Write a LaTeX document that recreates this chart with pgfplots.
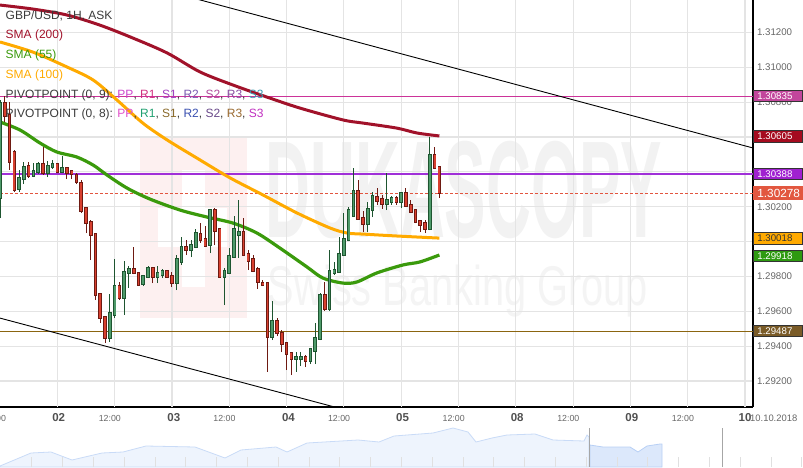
\documentclass[border=0pt]{standalone}
\usepackage{pgfplots}
\pgfplotsset{compat=1.18}
\usepackage{pgfplotstable}
\usepackage{fontspec}
\usepackage{graphicx}
\setmainfont{Liberation Sans}

\definecolor{rfill}{HTML}{D8402F}
\definecolor{rdark}{HTML}{6E1A12}
\definecolor{gfill}{HTML}{4E9A6A}
\definecolor{gdark}{HTML}{1E5530}
\definecolor{sma200}{HTML}{A1122A}
\definecolor{sma100}{HTML}{FFAA00}
\definecolor{sma55}{HTML}{3A9A0C}
\definecolor{hlmag}{HTML}{CC3399}
\definecolor{hlpur}{HTML}{A030D8}
\definecolor{hlbrn}{HTML}{8B6510}
\definecolor{curred}{HTML}{E2553F}
\definecolor{gridc}{HTML}{E4E4E4}
\definecolor{lblgray}{HTML}{666666}
\definecolor{daygray}{HTML}{505050}
\definecolor{txt}{HTML}{3A3A3A}
\definecolor{bx1}{HTML}{C2469C}
\definecolor{bx2}{HTML}{A50B1F}
\definecolor{bx3}{HTML}{A020D0}
\definecolor{bx4}{HTML}{E2573F}
\definecolor{bx5}{HTML}{FFAA00}
\definecolor{bx6}{HTML}{2E9A10}
\definecolor{bx7}{HTML}{7A5B27}
\definecolor{wmpink}{HTML}{FDF0F0}
\definecolor{wmgray}{HTML}{F2F2F2}
\definecolor{wmgray2}{HTML}{F4F4F4}
\definecolor{navfill}{HTML}{EEF4FD}
\definecolor{navline}{HTML}{C9DBF7}
\definecolor{navsel}{HTML}{DCE8FB}
\definecolor{navsel2}{HTML}{B8D0F5}
% pivot legend colours
\definecolor{pa}{HTML}{CC44CC}
\definecolor{pb}{HTML}{D03080}
\definecolor{pc}{HTML}{A040C0}
\definecolor{pd}{HTML}{7A5AB0}
\definecolor{pe}{HTML}{B04A9A}
\definecolor{pf}{HTML}{8A4AA0}
\definecolor{pg}{HTML}{3A9AB0}
\definecolor{qa}{HTML}{E050C8}
\definecolor{qb}{HTML}{20A070}
\definecolor{qc}{HTML}{8A6A2A}
\definecolor{qd}{HTML}{3A50B0}
\definecolor{qe}{HTML}{6A4A8A}
\definecolor{qf}{HTML}{9A6A30}
\definecolor{qg}{HTML}{C030C0}

\newcommand{\dl}[1]{{\fontsize{11.5}{12}\selectfont\bfseries\color{daygray}#1}}
\newcommand{\hlab}{{\fontsize{8.8}{10}\selectfont\color{lblgray}12:00}}

\pgfplotstableread{
i o h l c
1 1.30795 1.30835 1.30686 1.30720
2 1.30726 1.30801 1.30411 1.30456
3 1.30514 1.30525 1.30284 1.30296
6 1.30433 1.30456 1.30365 1.30376
9 1.30445 1.30542 1.30382 1.30393
12 1.30445 1.30451 1.30393 1.30399
14 1.30422 1.30428 1.30359 1.30393
15 1.30405 1.30411 1.30359 1.30388
16 1.30382 1.30393 1.30330 1.30342
17 1.30336 1.30353 1.30164 1.30175
18 1.30192 1.30198 1.30049 1.30106
19 1.30112 1.30124 1.29894 1.30038
20 1.30043 1.30049 1.29665 1.29693
21 1.29699 1.29705 1.29533 1.29561
22 1.29567 1.29573 1.29418 1.29447
25 1.29745 1.29768 1.29665 1.29676
28 1.29843 1.29969 1.29814 1.29820
29 1.29820 1.29825 1.29745 1.29751
32 1.29848 1.29854 1.29762 1.29797
35 1.29831 1.29837 1.29791 1.29797
36 1.29802 1.29825 1.29739 1.29762
39 1.29969 1.30009 1.29923 1.29952
42 1.30043 1.30106 1.29992 1.30009
43 1.30015 1.30089 1.29969 1.29975
45 1.30181 1.30192 1.29980 1.30061
46 1.30072 1.30078 1.29791 1.29797
51 1.30055 1.30135 1.29917 1.29923
52 1.29929 1.29952 1.29837 1.29888
53 1.29900 1.29923 1.29825 1.29831
54 1.29843 1.29854 1.29728 1.29768
55 1.29762 1.29779 1.29745 1.29751
56 1.29762 1.29762 1.29252 1.29452
58 1.29544 1.29561 1.29458 1.29475
59 1.29475 1.29493 1.29366 1.29412
60 1.29418 1.29418 1.29263 1.29355
61 1.29361 1.29366 1.29234 1.29326
64 1.29338 1.29349 1.29280 1.29315
68 1.29693 1.29768 1.29602 1.29613
75 1.30290 1.30353 1.30124 1.30129
76 1.30135 1.30175 1.30055 1.30101
79 1.30256 1.30307 1.30210 1.30233
80 1.30244 1.30267 1.30187 1.30216
83 1.30250 1.30261 1.30210 1.30227
85 1.30279 1.30307 1.30198 1.30204
86 1.30210 1.30238 1.30164 1.30170
87 1.30181 1.30181 1.30106 1.30112
88 1.30118 1.30124 1.30055 1.30095
89 1.30106 1.30124 1.30049 1.30072
91 1.30497 1.30542 1.30416 1.30422
92 1.30428 1.30428 1.30250 1.30279
}\redc

\pgfplotstableread{
i o h l c
0 1.30250 1.30812 1.30135 1.30795
4 1.30302 1.30411 1.30284 1.30365
5 1.30359 1.30456 1.30330 1.30428
7 1.30376 1.30451 1.30370 1.30405
8 1.30399 1.30456 1.30388 1.30445
10 1.30393 1.30462 1.30370 1.30433
11 1.30428 1.30468 1.30416 1.30445
13 1.30399 1.30491 1.30393 1.30422
23 1.29447 1.29699 1.29424 1.29590
24 1.29579 1.29900 1.29561 1.29745
26 1.29676 1.29888 1.29579 1.29825
27 1.29820 1.29860 1.29734 1.29843
30 1.29756 1.29808 1.29745 1.29802
31 1.29797 1.29860 1.29791 1.29848
33 1.29797 1.29860 1.29762 1.29820
34 1.29808 1.29843 1.29791 1.29831
37 1.29762 1.29923 1.29722 1.29900
38 1.29883 1.30026 1.29866 1.29969
40 1.29952 1.30009 1.29911 1.29980
41 1.29969 1.30072 1.29963 1.30049
44 1.29980 1.30181 1.29934 1.30181
47 1.29797 1.29848 1.29636 1.29831
48 1.29820 1.29963 1.29814 1.29917
49 1.29911 1.30147 1.29906 1.30072
50 1.30038 1.30238 1.29906 1.30055
57 1.29452 1.29659 1.29435 1.29544
62 1.29326 1.29366 1.29252 1.29338
63 1.29326 1.29366 1.29286 1.29338
65 1.29315 1.29389 1.29297 1.29384
66 1.29372 1.29533 1.29297 1.29447
67 1.29441 1.29705 1.29435 1.29693
69 1.29613 1.29952 1.29602 1.29831
70 1.29820 1.29883 1.29808 1.29837
71 1.29825 1.30026 1.29820 1.29929
72 1.29923 1.30164 1.29917 1.30015
73 1.30009 1.30198 1.30003 1.30181
74 1.30147 1.30422 1.30141 1.30290
77 1.30101 1.30227 1.30055 1.30187
78 1.30181 1.30284 1.30141 1.30261
81 1.30216 1.30393 1.30181 1.30238
82 1.30227 1.30261 1.30210 1.30250
84 1.30227 1.30279 1.30192 1.30279
90 1.30072 1.30600 1.30066 1.30497
}\greenc

\tikzset{
  pbox/.style={anchor=west, inner xsep=4pt, inner ysep=0pt, minimum height=11.5pt,
    draw=black!80, line width=0.7pt, text=white, font=\fontsize{9.7}{11}\selectfont},
  leg/.style={anchor=base west, inner sep=0pt, font=\fontsize{12}{14}\selectfont, text=txt},
}
\pgfplotsset{
  cstick/.style n args={2}{draw=none, mark=none, forget plot,
    error bars/.cd, y dir=plus, y explicit, error mark=none,
    error bar style={line width=#1, draw=#2, solid}},
}

\begin{document}
\begin{tikzpicture}
\path[use as bounding box] (0,0) rectangle (803pt,467pt);
% watermark
\fill[wmpink] (140pt,330pt) rectangle (247pt,149pt);
\fill[white] (182pt,297pt) rectangle (205pt,180pt);
\fill[white] (158pt,259pt) rectangle (227pt,220pt);
\node[anchor=base, inner sep=0pt, text=wmgray] at (464pt,230pt)
  {\scalebox{0.45}[1]{\fontsize{138}{138}\selectfont\bfseries DUKASCOPY}};
\node[anchor=base, inner sep=0pt, text=wmgray2] at (458pt,162pt)
  {\scalebox{0.71}[1]{\fontsize{56}{56}\selectfont Swiss Banking Group}};

\begin{axis}[
  at={(0pt,60pt)}, anchor=south west,
  width=753pt, height=407pt, scale only axis,
  xmin=0, xmax=157.67, ymin=1.29051, ymax=1.31386,
  axis x line*=bottom, axis y line*=right,
  axis line style={black, line width=1.2pt},
  major tick length=0pt,
  ytick={1.292,1.294,1.296,1.298,1.300,1.302,1.304,1.306,1.308,1.310,1.312},
  yticklabels={1.29200,1.29400,1.29600,1.29800,{},1.30200,{},{},1.30800,1.31000,1.31200},
  yticklabel style={anchor=west, xshift=0.5pt, font=\fontsize{9.7}{11}\selectfont, text=lblgray},
  ymajorgrids,
  grid style={gridc, line width=1.2pt},
  xtick={12.3,23,36.4,47,60.4,71,84.3,95,108.3,119,132.3,143,156},
  xticklabels={\dl{02},\hlab,\dl{03},\hlab,\dl{04},\hlab,\dl{05},\hlab,\dl{08},\hlab,\dl{09},\hlab,\dl{10}},
  xticklabel style={anchor=base, yshift=-14.5pt},
  extra x ticks={12,24,36,48,60,72,84,96,108,120,132,144,156},
  extra x tick labels={},
  extra x tick style={grid=major},
  /pgf/number format/assume math mode=true,
]
% horizontal levels
\addplot[hlmag, line width=1pt] coordinates {(0,1.30835) (157.67,1.30835)};
\addplot[hlpur, line width=1.2pt] coordinates {(0,1.30388) (157.67,1.30388)};
\addplot[hlbrn, line width=1pt] coordinates {(0,1.29487) (157.67,1.29487)};
\addplot[curred, line width=0.9pt, dash pattern=on 3pt off 2pt] coordinates {(0,1.30278) (157.67,1.30278)};
% channel
\addplot[black, line width=0.9pt] coordinates {(38,1.31415) (157.67,1.30537)};
\addplot[black, line width=0.9pt] coordinates {(0,1.29561) (75,1.29015)};
% SMAs
\addplot[sma200, line width=3pt, smooth] coordinates {(0,1.31357)(6.9,1.31334)(14.0,1.31300)(20.9,1.31242)(27.8,1.31168)(35.0,1.31082)(41.9,1.30973)(48.8,1.30898)(55.9,1.30829)(62.8,1.30766)(71.8,1.30698)(76.0,1.30680)(83.1,1.30651)(87.3,1.30623)(92,1.30606)};
\addplot[sma100, line width=3pt, smooth] coordinates {(0,1.31145)(6.9,1.31087)(14.0,1.31002)(19.5,1.30927)(24.5,1.30812)(29.9,1.30680)(35.0,1.30583)(41.9,1.30468)(48.2,1.30365)(55.1,1.30267)(62.2,1.30164)(69.1,1.30078)(72.7,1.30049)(76.0,1.30043)(83.1,1.30032)(92,1.30020)};
\addplot[sma55, line width=3.2pt, smooth] coordinates {(0,1.30686)(4.2,1.30640)(8.4,1.30565)(11.9,1.30514)(16.1,1.30485)(19.5,1.30439)(22.4,1.30382)(26.6,1.30307)(31.4,1.30244)(37.7,1.30181)(43.3,1.30141)(48.8,1.30106)(53.8,1.30049)(58.6,1.29963)(64.3,1.29854)(67.6,1.29791)(71.8,1.29762)(74.7,1.29768)(78.9,1.29820)(84.4,1.29866)(87.9,1.29883)(92,1.29923)};
% candles: red
\addplot[cstick={0.9pt}{rdark}] table[x=i, y=l, y error expr=\thisrow{h}-\thisrow{l}] {\redc};
\addplot[cstick={3.6pt}{rdark}] table[x=i, y expr=\thisrow{c}-0.00004, y error expr=\thisrow{o}-\thisrow{c}+0.00008] {\redc};
\addplot[cstick={1.8pt}{rfill}] table[x=i, y=c, y error expr=\thisrow{o}-\thisrow{c}] {\redc};
% candles: green
\addplot[cstick={0.9pt}{gdark}] table[x=i, y=l, y error expr=\thisrow{h}-\thisrow{l}] {\greenc};
\addplot[cstick={3.6pt}{gdark}] table[x=i, y expr=\thisrow{o}-0.00004, y error expr=\thisrow{c}-\thisrow{o}+0.00008] {\greenc};
\addplot[cstick={1.8pt}{gfill}] table[x=i, y=o, y error expr=\thisrow{c}-\thisrow{o}] {\greenc};
% anchors for price boxes
\coordinate (b1) at (axis cs:157.67,1.30835);
\coordinate (b2) at (axis cs:157.67,1.30605);
\coordinate (b3) at (axis cs:157.67,1.30388);
\coordinate (b4) at (axis cs:157.67,1.30278);
\coordinate (b5) at (axis cs:157.67,1.30018);
\coordinate (b6) at (axis cs:157.67,1.29918);
\coordinate (b7) at (axis cs:157.67,1.29487);
\coordinate (x0) at (axis cs:-1.05,1.29051);
\end{axis}

% price boxes
\node[pbox, fill=bx1] at (b1) {\makebox[41pt][l]{1.30835}};
\node[pbox, fill=bx2] at (b2) {\makebox[41pt][l]{1.30605}};
\node[pbox, fill=bx3] at (b3) {\makebox[41pt][l]{1.30388}};
\node[pbox, fill=bx4, draw=none, minimum height=14pt, font=\fontsize{11.8}{13}\selectfont] at (b4) {\makebox[41.3pt][l]{1.30278}};
\node[pbox, fill=bx5, text=black!80] at (b5) {\makebox[41pt][l]{1.30018}};
\node[pbox, fill=bx6] at (b6) {\makebox[41pt][l]{1.29918}};
\node[pbox, fill=bx7] at (b7) {\makebox[41pt][l]{1.29487}};

% left cut x label and date
\node[anchor=base, inner sep=0pt, yshift=-14.5pt] at (x0) {\hlab};
\node[anchor=base west, inner sep=0pt, font=\fontsize{9.4}{10}\selectfont, text=lblgray] at (750pt,45.5pt) {10.10.2018};

% legend texts
\node[leg] at (5.5pt,447.5pt) {GBP/USD, 1H, ASK};
\node[leg, text=sma200] at (5.5pt,428pt) {SMA (200)};
\node[leg, text=sma55] at (5.5pt,408.5pt) {SMA (55)};
\node[leg, text=sma100] at (5.5pt,388.5pt) {SMA (100)};
\node[leg] at (5.5pt,369pt) {PIVOTPOINT (0, 9): \textcolor{pa}{PP}, \textcolor{pb}{R1}, \textcolor{pc}{S1}, \textcolor{pd}{R2}, \textcolor{pe}{S2}, \textcolor{pf}{R3}, \textcolor{pg}{S3}};
\node[leg] at (5.5pt,349pt) {PIVOTPOINT (0, 8): \textcolor{qa}{PP}, \textcolor{qb}{R1}, \textcolor{qc}{S1}, \textcolor{qd}{R2}, \textcolor{qe}{S2}, \textcolor{qf}{R3}, \textcolor{qg}{S3}};

% navigator
\begin{axis}[
  at={(0pt,0pt)}, anchor=south west,
  width=803pt, height=40pt, scale only axis,
  xmin=0, xmax=803, ymin=0, ymax=40,
  hide axis, clip=false,
]
\addplot[fill=navfill, draw=navline, line width=0.8pt] coordinates {(0,1)(31,14)(51,15)(72,7)(102,14)(123,15)(146,21)(195,20)(225,9)(241,17)(276,20)(287,15)(307,24)(358,27)(379,25)(394,31)(433,34)(453,39)(468,35)(476,25)(492,29)(507,32)(535,33)(553,27)(584,26)(587,32)(589,30)} \closedcycle;
\addplot[fill=navsel, draw=navsel2, line width=0.8pt] coordinates {(590,22)(603,20)(620,20)(630,20)(638,15)(647,21)(660,23)(662,23)} \closedcycle;
\end{axis}
\foreach \k in {1,...,26} {\draw[black!12, line width=0.8pt] (0.9pt+30.8pt*\k,0pt) -- (0.9pt+30.8pt*\k,10pt);}
\draw[black!35, line width=1.5pt] (589.5pt,0pt) -- (589.5pt,39pt);
\draw[black!35, line width=1.5pt] (722.5pt,0pt) -- (722.5pt,39pt);
\end{tikzpicture}
\end{document}
